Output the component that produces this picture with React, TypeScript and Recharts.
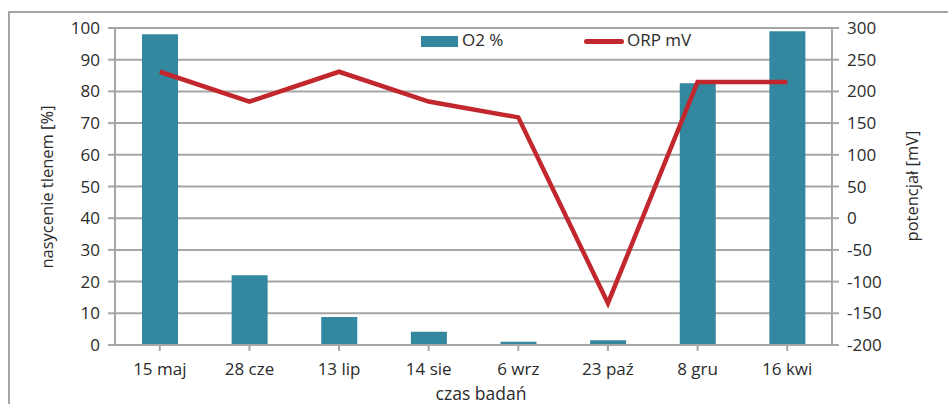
import React from "react";
import {
  ComposedChart,
  Bar,
  Line,
  XAxis,
  YAxis,
  CartesianGrid,
} from "recharts";

const DATES = ["15 maj", "28 cze", "13 lip", "14 sie", "6 wrz", "23 paź", "8 gru", "16 kwi"];
const O2 = [98, 22, 8.8, 4.2, 1.0, 1.5, 82.6, 99];
const ORP = [231, 184, 231, 184, 159, -134, 215, 215];
const LEFT_TICKS = [0, 10, 20, 30, 40, 50, 60, 70, 80, 90, 100];
const RIGHT_TICKS = [-200, -150, -100, -50, 0, 50, 100, 150, 200, 250, 300];

const rows = DATES.map((d, i) => ({ date: d, o2: O2[i], orp: ORP[i] }));

const FONT = "'Open Sans', sans-serif";
const TEXT = "#2b2b2b";
const GRID = "#a6a6a6";
const TEAL = "#33879e";
const RED = "#c1272d";

const tick = { fill: TEXT, fontSize: 17, fontFamily: FONT };

// legend drawn as a plain overlay so it doesn't eat plot height
function LegendBox() {
  return (
    <div
      style={{
        position: "absolute",
        left: 421,
        top: 31,
        width: 300,
        height: 20,
        fontFamily: FONT,
        fontSize: 17,
        color: TEXT,
      }}
    >
      <div style={{ position: "absolute", left: 0, top: 5, width: 37, height: 11, background: TEAL }} />
      <span style={{ position: "absolute", left: 41, top: -3 }}>O2 %</span>
      <div style={{ position: "absolute", left: 163, top: 8, width: 40, height: 5, borderRadius: 2.5, background: RED }} />
      <span style={{ position: "absolute", left: 206, top: -3 }}>ORP mV</span>
    </div>
  );
}

export default function App() {
  return (
    <div style={{ position: "absolute", left: 0, top: 0, width: 948, height: 404, overflow: "hidden", background: "#fff" }}>
      <div
        style={{
          position: "absolute",
          left: 8,
          top: 11,
          width: 1000,
          height: 500,
          borderLeft: "2px solid #a6a6a6",
          borderTop: "2px solid #a6a6a6",
        }}
      />
      <ComposedChart
        width={948}
        height={404}
        data={rows}
        margin={{ top: 28, right: 56, left: 55, bottom: 29 }}
        style={{ position: "absolute", left: 0, top: 0 }}
      >
        <CartesianGrid vertical={false} stroke={GRID} strokeWidth={2} yAxisId="left" />
        <XAxis
          dataKey="date"
          height={30}
          tick={tick}
          tickLine={{ stroke: GRID, strokeWidth: 2 }}
          axisLine={{ stroke: GRID, strokeWidth: 2 }}
          tickSize={6}
          tickMargin={12}
          interval={0}
          label={() => (
            <text x={481} y={400} textAnchor="middle" fill={TEXT} fontSize={17.5} fontFamily={FONT}>
              czas badań
            </text>
          )}
        />
        <YAxis
          yAxisId="left"
          width={60}
          domain={[0, 100]}
          ticks={LEFT_TICKS}
          tick={tick}
          tickLine={{ stroke: GRID, strokeWidth: 2 }}
          axisLine={{ stroke: GRID, strokeWidth: 2 }}
          tickSize={7}
          tickMargin={8}
          label={() => (
            <text
              x={46}
              y={187}
              transform="rotate(-90, 46, 187)"
              textAnchor="middle"
              dominantBaseline="central"
              fill={TEXT}
              fontSize={16.5}
              fontFamily={FONT}
            >
              nasycenie tlenem [%]
            </text>
          )}
        />
        <YAxis
          yAxisId="right"
          orientation="right"
          width={60}
          domain={[-200, 300]}
          ticks={RIGHT_TICKS}
          tick={tick}
          tickLine={{ stroke: GRID, strokeWidth: 2 }}
          axisLine={{ stroke: GRID, strokeWidth: 2 }}
          tickSize={7}
          tickMargin={8}
          label={() => (
            <text
              x={911}
              y={186}
              transform="rotate(-90, 911, 186)"
              textAnchor="middle"
              dominantBaseline="central"
              fill={TEXT}
              fontSize={16.5}
              fontFamily={FONT}
            >
              potencjał [mV]
            </text>
          )}
        />
        <Bar yAxisId="left" dataKey="o2" name="O2 %" fill={TEAL} barSize={36} isAnimationActive={false} />
        <Line
          yAxisId="right"
          dataKey="orp"
          name="ORP mV"
          stroke={RED}
          strokeWidth={4.5}
          dot={false}
          activeDot={false}
          isAnimationActive={false}
        />
      </ComposedChart>
      <LegendBox />
    </div>
  );
}
